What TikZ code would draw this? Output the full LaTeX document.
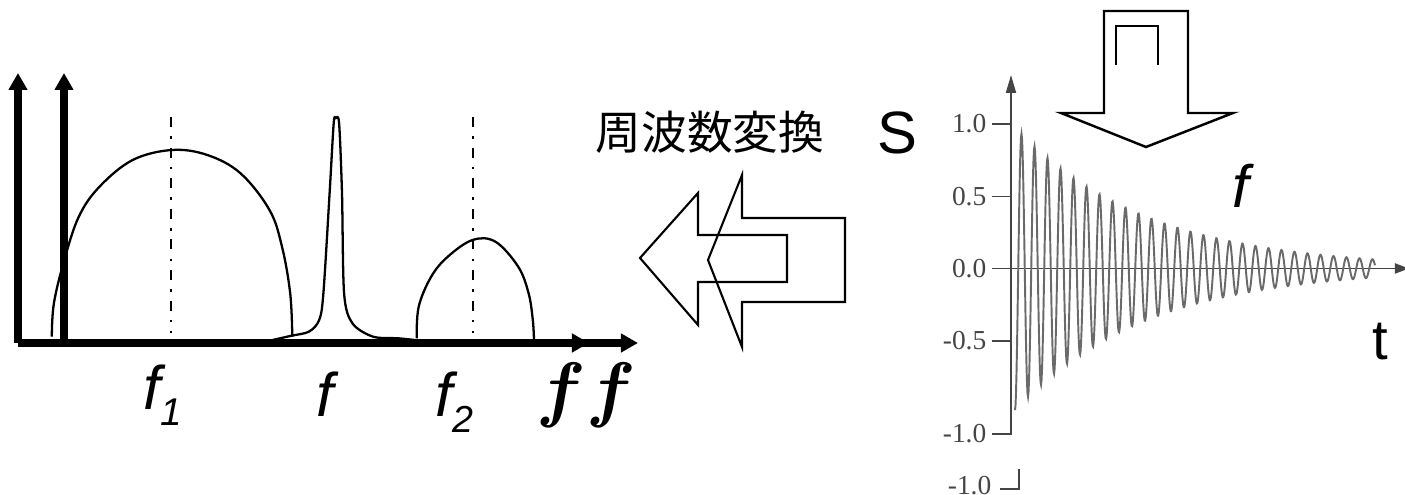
\documentclass[tikz,border=0pt]{standalone}
\usepackage{bm}
\usepackage{fontspec}
\setmainfont{Liberation Sans}
\newfontfamily\timesfont{Liberation Serif}
\newfontfamily\cjkfont{Noto Sans CJK JP}
\usepackage{tikz}
\usetikzlibrary{arrows.meta}
\definecolor{plotgray}{HTML}{454545}
\definecolor{signalgray}{HTML}{6A6A6A}

\begin{document}
\begin{tikzpicture}[x=0.01cm,y=-0.01cm,
    axisline/.style={line width=2pt,-{Triangle[width=0.18cm,length=0.17cm]}},
    curveline/.style={line width=0.65pt,line join=round},
    centerline/.style={line width=0.65pt,dash pattern=on 2.85pt off 2.6pt on 0.75pt off 2.5pt},
    bigarrow/.style={line width=0.6pt,line join=miter},
    plotaxis/.style={plotgray,line width=0.55pt},
    ticklabel/.style={anchor=east,inner sep=0pt,text=plotgray,font=\timesfont\fontsize{7.8}{8}\selectfont},
    biglbl/.style={inner sep=0pt,anchor=base west,font=\fontsize{17.5}{17.5}\selectfont\itshape},
    lbl/.style={inner sep=0pt,anchor=base west,font=\fontsize{17}{17}\selectfont},
  ]
  \useasboundingbox (0,0) rectangle (1405,495);

  % spectrum: axes
  \coordinate (origin) at (18,343);
  \draw[axisline] (origin) -- (18,73);
  \draw[axisline] (64,343) -- (64,73);
  \draw[axisline] (origin) -- (589,343);
  \draw[axisline] (origin) -- (638,343);

  % centre lines
  \draw[centerline] (171,117) -- (171,333);
  \draw[centerline] (473,117) -- (473,333);

  % wide band around f1
  \draw[curveline] plot[smooth,tension=0.6] coordinates {
    (51.8,336.7) (53.9,303.3) (64.3,260) (78.8,216.7) (99.5,186.7)
    (132.7,160) (172,150) (207.3,155) (240.5,173.3) (269.5,210)
    (282,246.7) (290.2,293.3) (292.3,336.7)};
  % sharp peak at f
  \draw[curveline] plot[smooth,tension=0.5] coordinates {
    (265.3,341.7) (290.2,336) (308.9,331.7) (319.2,320) (323.4,293.3)
    (329.6,193.3) (333.7,123.3) (335.8,118.3) (339.1,123.3) (342,193.3)
    (344.1,293.3) (352.4,323.3) (373.1,336.7) (398,338.3) (414.6,340)};
  % band around f2
  \draw[curveline] plot[smooth,tension=0.6] coordinates {
    (416.7,338.3) (418.7,306.7) (431.2,276.7) (447.8,256.7) (472.6,240)
    (495.4,241.7) (518.2,266.7) (528.6,293.3) (532.8,320) (534,340)};

  % spectrum labels
  \node[biglbl] (lblFa) at (143,410) {f\raisebox{-4.5pt}{\fontsize{11}{11}\selectfont 1}};
  \node[biglbl] (lblF) at (316,417) {f};
  \node[biglbl] (lblFb) at (435,417) {f\raisebox{-4.3pt}{\fontsize{10.7}{10.7}\selectfont 2}};
  \node[inner sep=0pt,anchor=base west,font=\fontsize{21}{21}\selectfont] (lblFF) at (536,414) {$\bm{f}\bm{f}$};

  % conversion arrows
  \node[inner sep=0pt,anchor=base west,font=\cjkfont\fontsize{13}{13}\selectfont] (convLabel) at (595,150) {周波数変換};
  \draw[bigarrow] (708,260) -- (742,175) -- (742,218) -- (845,218) -- (845,302)
    -- (742,302) -- (742,347) -- cycle;
  \draw[bigarrow] (640,258) -- (698,193) -- (698,235) -- (787,235) -- (787,282)
    -- (698,282) -- (698,325) -- cycle;

  % down arrow with pulse
  \draw[bigarrow,line width=0.7pt] (1104,11) -- (1188,11) -- (1188,113) -- (1233,113)
    -- (1146,147) -- (1061,113) -- (1104,113) -- cycle;
  \draw[line width=0.7pt] (1116,65) -- (1116,26) -- (1158,26) -- (1158,65);

  % time signal: axes and ticks
  \draw[plotaxis,-{Triangle[width=0.1cm,length=0.18cm]}] (1011,435) -- (1011,75);
  \draw[plotaxis,-{Triangle[width=0.1cm,length=0.14cm]}] (992,268.5) -- (1409,268.5);
  \foreach \yy/\val in {124/1.0,196.5/0.5,268.5/0.0,341/-0.5,434/-1.0}{
    \draw[plotaxis] (992,\yy) -- (1011,\yy);
    \node[ticklabel] at (987,\yy) {\val};
  }
  \node[ticklabel] (extraTick) at (992,485.5) {-1.0};
  \draw[plotaxis] (1000,489) -- (1019,489) -- (1019,469);

  % damped oscillation
  \draw[signalgray,line width=0.55pt] plot[domain=0:360,samples=720]
    ({1015+\x},{268.5+141.6*exp(-0.00765*\x)*cos(27.6923*\x)});

  % signal labels
  \node[lbl] (lblS) at (877,154) {S};
  \node[lbl,font=\fontsize{16}{16}\selectfont] (lblT) at (1372,360) {t};
  \node[lbl,font=\fontsize{17}{17}\selectfont\itshape] (lblFr) at (1232,208) {f};
\end{tikzpicture}
\end{document}
